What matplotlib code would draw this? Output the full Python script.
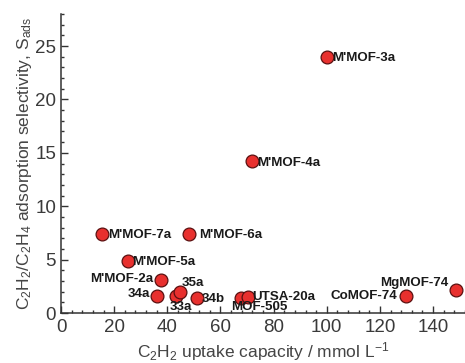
import matplotlib
matplotlib.use("Agg")
import matplotlib.pyplot as plt
from matplotlib import font_manager
from matplotlib.ticker import MultipleLocator

plt.rcParams['font.family'] = ['Liberation Sans', 'DejaVu Sans']
plt.rcParams['mathtext.fontset'] = 'custom'
plt.rcParams['mathtext.rm'] = 'Liberation Sans'
plt.rcParams['mathtext.it'] = 'Liberation Sans'

bold_files = [f for f in font_manager.findSystemFonts() if f.endswith('LiberationSans-Bold.ttf')]
bold = font_manager.FontProperties(fname=bold_files[0], size=9.6) if bold_files else \
    font_manager.FontProperties(family='Liberation Sans', weight='bold', size=9.6)

# C2H2 uptake (mmol/L) vs C2H2/C2H4 selectivity
names = ["M'MOF-3a", "M'MOF-4a", "M'MOF-7a", "M'MOF-6a", "M'MOF-5a", "M'MOF-2a",
         "34a", "33a", "35a", "34b", "MOF-505", "UTSA-20a", "CoMOF-74", "MgMOF-74"]
uptake = [100, 71.8, 15.6, 48.2, 25.2, 37.7, 36.2, 43.1, 44.8, 51.3, 67.8, 70.3, 129.7, 148.7]
select = [24.0, 14.2, 7.4, 7.4, 4.9, 3.1, 1.55, 1.6, 2.0, 1.4, 1.43, 1.53, 1.6, 2.2]

# label offsets in points and alignment
offs = {
    "M'MOF-3a": (4, -1, 'left'),
    "M'MOF-4a": (4, -1, 'left'),
    "M'MOF-7a": (4, -1, 'left'),
    "M'MOF-6a": (7, -1, 'left'),
    "M'MOF-5a": (3, -1, 'left'),
    "M'MOF-2a": (-6, 1, 'right'),
    "34a": (-5, 2, 'right'),
    "33a": (-4, -8, 'left'),
    "35a": (1, 6, 'left'),
    "34b": (3, -1, 'left'),
    "MOF-505": (-7, -7, 'left'),
    "UTSA-20a": (3, 0, 'left'),
    "CoMOF-74": (-6, 0, 'right'),
    "MgMOF-74": (-6, 5, 'right'),
}

fig = plt.figure(figsize=(4.65, 3.63), dpi=100)
ax = fig.add_axes([61/465, 50/363, 1 - 61/465, 299/363])

ax.scatter(uptake, select, s=85, c='#e8302e', edgecolors='#5a1010', linewidths=0.9, zorder=3, clip_on=False)

for n, x, y in zip(names, uptake, select):
    dx, dy, ha = offs[n]
    ax.annotate(n, (x, y), xytext=(dx, dy), textcoords='offset points',
                ha=ha, va='center', fontproperties=bold, color='#1a1a1a', zorder=4)

ax.set_xlim(0, 152)
ax.set_ylim(0, 28)
ax.xaxis.set_major_locator(MultipleLocator(20))
ax.xaxis.set_minor_locator(MultipleLocator(4))
ax.yaxis.set_major_locator(MultipleLocator(5))
ax.yaxis.set_minor_locator(MultipleLocator(1))
ax.tick_params(which='both', direction='in', colors='#333333', labelcolor='#3a3a3a', labelsize=13.5, width=1)
ax.tick_params(which='major', length=5)
ax.tick_params(which='minor', length=2.5)
ax.tick_params(axis='x', pad=4)
ax.spines['top'].set_visible(False)
ax.spines['right'].set_visible(False)
for s in ('left', 'bottom'):
    ax.spines[s].set_color('#333333')
    ax.spines[s].set_linewidth(1.1)

ax.set_xlabel(r'C$_2$H$_2$ uptake capacity / mmol L$^{-1}$', fontsize=12.5, color='#444444', labelpad=3)
ax.set_ylabel(r'C$_2$H$_2$/C$_2$H$_4$ adsorption selectivity, S$_{\mathrm{ads}}$',
              fontsize=12.5, color='#444444', labelpad=1)

fig.savefig('out.png', dpi=100)
